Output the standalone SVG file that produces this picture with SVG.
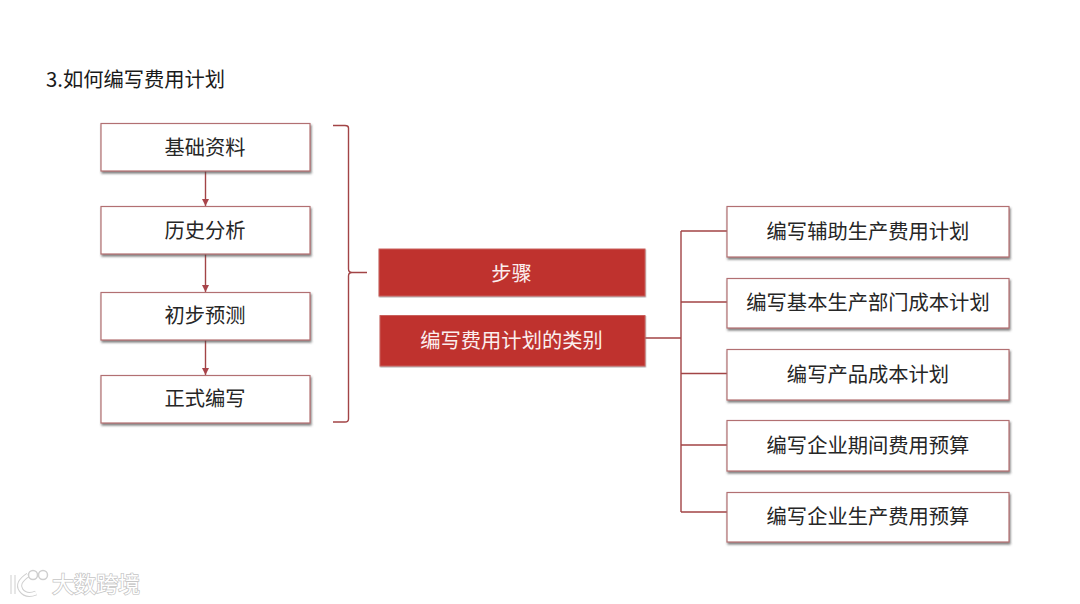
<svg xmlns="http://www.w3.org/2000/svg" width="1080" height="604" viewBox="0 0 1080 604">
<style>
text{font-family:"Noto Sans CJK SC","Liberation Sans",sans-serif;font-size:20.300px;text-anchor:middle;fill:#262626}
.box{fill:#fff;stroke:#b27072;stroke-width:1.200;filter:url(#sh)}
.red{fill:#bf302e;stroke:#c9605c;stroke-width:1;filter:url(#sh2)}
.c{fill:none;stroke:#a24446;stroke-width:1.400}
.wm{fill:#fff;stroke:#d6d6d6;stroke-width:1}
</style>
<defs>
<filter id="sh" x="-5%" y="-10%" width="110%" height="125%"><feDropShadow dx="1" dy="2" stdDeviation="1" flood-color="#444" flood-opacity=".7"/></filter>
<filter id="sh2" x="-5%" y="-10%" width="110%" height="125%"><feDropShadow dx="0.500" dy="1" stdDeviation=".6" flood-color="#777" flood-opacity=".6"/></filter>
<marker id="a" markerWidth="8" markerHeight="7" refX="7" refY="3.500" orient="auto" markerUnits="userSpaceOnUse"><path d="M0 0L7 3.500L0 7Z" fill="#a8444a"/></marker>
</defs>
<rect width="1080" height="604" fill="#fff"/>
<text id="title" x="46" y="87" style="text-anchor:start;fill:#1a1a1a">3.如何编写费用计划</text>
<g id="connectors">
<path class="c" d="M205.500 171V206" marker-end="url(#a)"/>
<path class="c" d="M205.500 254V292" marker-end="url(#a)"/>
<path class="c" d="M205.500 340V375" marker-end="url(#a)"/>
<path class="c" d="M333 125.500H345Q348.500 125.500 348.500 128V269Q348.500 272.500 352 272.500H367M352 272.500Q348.500 272.500 348.500 276V419Q348.500 422 345 422H333"/>
<path class="c" d="M645 338H681M681 231V512M681 231H727M681 302H727M681 373.500H727M681 445H727M681 512H727"/>
</g>
<g id="n1"><rect class="box" x="101" y="123.500" width="209" height="47.500"/><text x="205" y="154.500">基础资料</text></g>
<g id="n2"><rect class="box" x="101" y="206.500" width="209" height="47.500"/><text x="205" y="237.500">历史分析</text></g>
<g id="n3"><rect class="box" x="101" y="292.500" width="209" height="47.500"/><text x="205" y="322.500">初步预测</text></g>
<g id="n4"><rect class="box" x="101" y="375.500" width="209" height="47.500"/><text x="205" y="405.500">正式编写</text></g>
<g id="n5"><rect class="red" x="379" y="249" width="266" height="47"/><text x="511.500" y="280.500" style="fill:#fbeeee">步骤</text></g>
<g id="n6"><rect class="red" x="380" y="315.500" width="265" height="50.500"/><text x="511.500" y="347.500" style="fill:#fbeeee">编写费用计划的类别</text></g>
<g id="n7"><rect class="box" x="727" y="206.500" width="282" height="50.500"/><text x="868" y="238.500">编写辅助生产费用计划</text></g>
<g id="n8"><rect class="box" x="727" y="278.500" width="282" height="49.500"/><text x="868" y="309.500">编写基本生产部门成本计划</text></g>
<g id="n9"><rect class="box" x="727" y="349.500" width="282" height="50.500"/><text x="868" y="381.500">编写产品成本计划</text></g>
<g id="n10"><rect class="box" x="727" y="420.500" width="282" height="50.500"/><text x="868" y="452.500">编写企业期间费用预算</text></g>
<g id="n11"><rect class="box" x="727" y="492.500" width="282" height="49.500"/><text x="868" y="523.500">编写企业生产费用预算</text></g>
<g id="watermark">
<path d="M13 575V594M28 575Q16 583 21 590Q26 597 36 593" fill="none" stroke="#cfcfcf" stroke-width="5"/>
<path d="M13 575V594M28 575Q16 583 21 590Q26 597 36 593" fill="none" stroke="#fff" stroke-width="3"/>
<circle cx="33" cy="575" r="4.500" fill="#fff" stroke="#cfcfcf" stroke-width="1.500"/><circle cx="43" cy="575" r="4.500" fill="#fff" stroke="#cfcfcf" stroke-width="1.500"/>
<text x="96" y="592" style="font-size:22px;fill:#fff;stroke:#c6c6c6;stroke-width:1.500;paint-order:stroke">大数跨境</text>
</g>
</svg>
